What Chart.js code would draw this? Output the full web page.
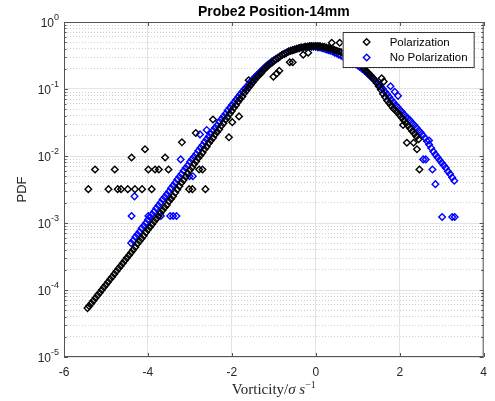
<!DOCTYPE html>
<html>
<head>
<meta charset="utf-8">
<script src="https://cdn.jsdelivr.net/npm/chart.js@4.4.1/dist/chart.umd.min.js"></script>
<style>
  html, body { margin: 0; padding: 0; background: #fff; }
  canvas { display: block; }
</style>
</head>
<body>
<canvas id="chart" width="495" height="401"></canvas>
<script>
// PDF of normalised vorticity, Probe2 Position-14mm

const xTicks = [-6, -4, -2, 0, 2, 4];
const yDecades = [0, -1, -2, -3, -4, -5];   // labels 10^n
const minorSteps = [2, 3, 4, 5, 6, 7, 8, 9];

// Polarization - main curve
const polX = [
  -5.44, -5.4, -5.35, -5.3, -5.25, -5.2, -5.15, -5.1, -5.05, -5,
  -4.95, -4.9, -4.85, -4.8, -4.75, -4.7, -4.65, -4.6, -4.55, -4.5,
  -4.45, -4.4, -4.35, -4.3, -4.25, -4.2, -4.15, -4.1, -4.05, -4,
  -3.95, -3.9, -3.85, -3.8, -3.75, -3.7, -3.65, -3.6, -3.55, -3.5,
  -3.45, -3.4, -3.35, -3.3, -3.25, -3.2, -3.15, -3.1, -3.05, -3,
  -2.95, -2.9, -2.85, -2.8, -2.75, -2.7, -2.65, -2.6, -2.55, -2.5,
  -2.45, -2.4, -2.35, -2.3, -2.25, -2.2, -2.15, -2.1, -2.05, -2,
  -1.95, -1.9, -1.85, -1.8, -1.75, -1.7, -1.65, -1.6, -1.55, -1.5,
  -1.45, -1.4, -1.35, -1.3, -1.25, -1.2, -1.15, -1.1, -1.05, -1,
  -0.95, -0.9, -0.85, -0.8, -0.75, -0.7, -0.65, -0.6, -0.55, -0.5,
  -0.45, -0.4, -0.35, -0.3, -0.25, -0.2, -0.15, -0.1, -0.05, 0,
  0.05, 0.1, 0.15, 0.2, 0.25, 0.3, 0.35, 0.4, 0.45, 0.5,
  0.55, 0.6, 0.65, 0.7, 0.75, 0.8, 0.85, 0.9, 0.95, 1,
  1.05, 1.1, 1.15, 1.2, 1.25, 1.3, 1.35, 1.4, 1.45, 1.5,
  1.55, 1.6, 1.65, 1.7, 1.75, 1.8, 1.85, 1.9, 1.95, 2,
  2.05, 2.1, 2.15, 2.2, 2.25, 2.3, 2.35, 2.4, 2.45
];
const polY = [
  5.37e-5, 5.75e-5, 6.31e-5, 6.92e-5, 7.59e-5, 8.32e-5, 9.12e-5, 1.00e-4, 1.10e-4, 1.20e-4,
  1.32e-4, 1.45e-4, 1.58e-4, 1.74e-4, 1.91e-4, 2.09e-4, 2.29e-4, 2.51e-4, 2.75e-4, 3.02e-4,
  3.31e-4, 3.63e-4, 3.98e-4, 4.37e-4, 4.90e-4, 5.37e-4, 5.89e-4, 6.46e-4, 7.24e-4, 7.94e-4,
  8.71e-4, 9.55e-4, 1.05e-3, 1.15e-3, 1.26e-3, 1.41e-3, 1.55e-3, 1.70e-3, 1.86e-3, 2.09e-3,
  2.29e-3, 2.51e-3, 2.82e-3, 3.16e-3, 3.55e-3, 3.98e-3, 4.37e-3, 4.90e-3, 5.50e-3, 6.17e-3,
  6.76e-3, 7.59e-3, 8.32e-3, 9.33e-3, 1.02e-2, 1.12e-2, 1.26e-2, 1.38e-2, 1.55e-2, 1.70e-2,
  1.86e-2, 2.09e-2, 2.29e-2, 2.51e-2, 2.82e-2, 3.09e-2, 3.47e-2, 3.80e-2, 4.27e-2, 4.68e-2,
  5.25e-2, 5.75e-2, 6.46e-2, 7.08e-2, 7.76e-2, 8.71e-2, 9.55e-2, 0.105, 0.115, 0.126,
  0.138, 0.151, 0.162, 0.174, 0.191, 0.204, 0.219, 0.234, 0.245, 0.263,
  0.275, 0.288, 0.309, 0.324, 0.331, 0.347, 0.363, 0.372, 0.380, 0.389,
  0.398, 0.407, 0.417, 0.417, 0.427, 0.427, 0.437, 0.437, 0.437, 0.437,
  0.437, 0.437, 0.427, 0.427, 0.417, 0.407, 0.398, 0.398, 0.380, 0.372,
  0.363, 0.355, 0.339, 0.324, 0.316, 0.302, 0.288, 0.275, 0.263, 0.251,
  0.234, 0.219, 0.204, 0.186, 0.174, 0.162, 0.148, 0.138, 0.123, 0.110,
  0.0977, 0.0851, 0.0759, 0.0676, 0.0617, 0.0562, 0.0513, 0.0479, 0.0447, 0.0407,
  0.0372, 0.0339, 0.0309, 0.0282, 0.0257, 0.0234, 0.0214, 0.0195, 0.0178
];
// Polarization - scattered points
const polOutX = [
  -5.42, -5.26, -4.94, -4.79, -4.72, -4.64, -4.48, -4.39, -4.31, -4.14,
  -4.07, -3.99, -3.91, -3.83, -3.74, -3.59, -3.51, -3.19, -3.02, -2.94,
  -2.86, -2.78, -2.7, -2.63, -2.45, -2.07, -1.99, -1.83, -1.6, -1.01,
  -0.93, -0.87, -0.62, -0.55, -0.3, -0.18, 0.38, 0.57, 1.57, 1.62,
  2.08, 2.17, 2.33, 2.41, 2.47
];
const polOutY = [
  3.2e-3, 6.3e-3, 3.2e-3, 6.3e-3, 3.2e-3, 3.2e-3, 3.2e-3, 9.5e-3, 3.2e-3, 3.2e-3,
  1.26e-2, 6.3e-3, 3.2e-3, 6.3e-3, 6.3e-3, 9.5e-3, 6.3e-3, 1.6e-2, 3.2e-3, 3.2e-3,
  2.2e-2, 6.3e-3, 6.3e-3, 3.2e-3, 3.5e-2, 1.9e-2, 3.2e-2, 3.9e-2, 0.135, 0.152,
  0.170, 0.187, 0.251, 0.251, 0.324, 0.347, 0.49, 0.49, 0.145, 0.129,
  2.9e-2, 1.58e-2, 1.58e-2, 1.26e-2, 6.3e-3
];

// No Polarization - main curve
const noPolX = [
  -4.4, -4.35, -4.3, -4.25, -4.2, -4.15, -4.1, -4.05, -4, -3.95,
  -3.9, -3.85, -3.8, -3.75, -3.7, -3.65, -3.6, -3.55, -3.5, -3.45,
  -3.4, -3.35, -3.3, -3.25, -3.2, -3.15, -3.1, -3.05, -3, -2.95,
  -2.9, -2.85, -2.8, -2.75, -2.7, -2.65, -2.6, -2.55, -2.5, -2.45,
  -2.4, -2.35, -2.3, -2.25, -2.2, -2.15, -2.1, -2.05, -2, -1.95,
  -1.9, -1.85, -1.8, -1.75, -1.7, -1.65, -1.6, -1.55, -1.5, -1.45,
  -1.4, -1.35, -1.3, -1.25, -1.2, -1.15, -1.1, -1.05, -1, -0.95,
  -0.9, -0.85, -0.8, -0.75, -0.7, -0.65, -0.6, -0.55, -0.5, -0.45,
  -0.4, -0.35, -0.3, -0.25, -0.2, -0.15, -0.1, -0.05, 0, 0.05,
  0.1, 0.15, 0.2, 0.25, 0.3, 0.35, 0.4, 0.45, 0.5, 0.55,
  0.6, 0.65, 0.7, 0.75, 0.8, 0.85, 0.9, 0.95, 1, 1.05,
  1.1, 1.15, 1.2, 1.25, 1.3, 1.35, 1.4, 1.45, 1.5, 1.55,
  1.6, 1.65, 1.7, 1.75, 1.8, 1.85, 1.9, 1.95, 2, 2.05,
  2.1, 2.15, 2.2, 2.25, 2.3, 2.35, 2.4, 2.45, 2.5, 2.55,
  2.6, 2.65, 2.7, 2.75, 2.8, 2.85, 2.9, 2.95, 3, 3.05,
  3.1, 3.15, 3.2, 3.25, 3.3
];
const noPolY = [
  5.01e-4, 5.50e-4, 6.17e-4, 6.76e-4, 7.41e-4, 8.32e-4, 9.12e-4, 1.00e-3, 1.12e-3, 1.23e-3,
  1.35e-3, 1.48e-3, 1.66e-3, 1.82e-3, 2.00e-3, 2.24e-3, 2.45e-3, 2.69e-3, 2.95e-3, 3.31e-3,
  3.63e-3, 3.98e-3, 4.47e-3, 4.90e-3, 5.37e-3, 6.03e-3, 6.61e-3, 7.24e-3, 8.13e-3, 8.91e-3,
  9.77e-3, 1.07e-2, 1.20e-2, 1.32e-2, 1.45e-2, 1.62e-2, 1.78e-2, 1.95e-2, 2.14e-2, 2.40e-2,
  2.63e-2, 2.88e-2, 3.24e-2, 3.55e-2, 3.89e-2, 4.27e-2, 4.79e-2, 5.25e-2, 5.75e-2, 6.31e-2,
  6.92e-2, 7.59e-2, 8.32e-2, 9.12e-2, 0.100, 0.107, 0.117, 0.129, 0.138, 0.151,
  0.162, 0.174, 0.186, 0.200, 0.214, 0.229, 0.240, 0.257, 0.269, 0.282,
  0.295, 0.309, 0.324, 0.339, 0.347, 0.363, 0.372, 0.380, 0.389, 0.398,
  0.407, 0.417, 0.417, 0.427, 0.427, 0.427, 0.427, 0.427, 0.427, 0.417,
  0.417, 0.407, 0.398, 0.389, 0.380, 0.372, 0.363, 0.347, 0.339, 0.324,
  0.316, 0.302, 0.288, 0.282, 0.269, 0.257, 0.245, 0.234, 0.224, 0.214,
  0.200, 0.191, 0.178, 0.166, 0.155, 0.145, 0.135, 0.126, 0.117, 0.107,
  0.100, 0.0912, 0.0832, 0.0759, 0.0692, 0.0631, 0.0575, 0.0537, 0.0490, 0.0457,
  0.0417, 0.0389, 0.0363, 0.0339, 0.0309, 0.0288, 0.0263, 0.0240, 0.0224, 0.0204,
  0.0186, 0.0166, 0.0148, 0.0132, 0.0117, 0.0105, 0.00955, 0.00871, 0.00794, 0.00724,
  0.00661, 0.00589, 0.00537, 0.00479, 0.00427
];
// No Polarization - scattered points
const noPolOutX = [
  -4.39, -4.32, -3.99, -3.69, -3.47, -3.4, -3.32, -3.22, -3.01, -2.93,
  -2.76, -2.6, 1.78, 1.88, 1.96, 2.56, 2.62, 2.7, 2.78, 2.85,
  3.01, 3.25, 3.31
];
const noPolOutY = [
  1.27e-3, 2.5e-3, 1.27e-3, 1.27e-3, 1.27e-3, 1.27e-3, 1.27e-3, 8.9e-3, 5.0e-3, 5.0e-3,
  2.1e-2, 2.45e-2, 0.110, 0.091, 0.079, 8.9e-3, 8.9e-3, 1.7e-2, 6.3e-3, 3.8e-3,
  1.23e-3, 1.23e-3, 1.23e-3
];

const toPoints = (xs, ys) => xs.map((x, i) => ({ x: x, y: ys[i] }));

const AXIS = '#555555';
const TEXT = '#262626';
const SANS = "'Liberation Sans', Arial, Helvetica, sans-serif";
const SERIF = "'Liberation Serif', 'DejaVu Serif', serif";

const series = [
  { label: 'Polarization', color: '#000000' },
  { label: 'No Polarization', color: '#0000ff' }
];

function diamond(ctx, x, y, r) {
  ctx.beginPath();
  ctx.moveTo(x - r, y);
  ctx.lineTo(x, y - r);
  ctx.lineTo(x + r, y);
  ctx.lineTo(x, y + r);
  ctx.closePath();
  ctx.stroke();
}

// frame, ticks, tick labels, titles and legend in MATLAB style
const decorations = {
  id: 'decorations',
  afterDraw(chart) {
    const ctx = chart.ctx;
    const a = chart.chartArea;
    const xs = chart.scales.x, ys = chart.scales.y;
    ctx.save();

    // box
    ctx.strokeStyle = AXIS;
    ctx.lineWidth = 1;
    ctx.strokeRect(a.left + 0.5, a.top + 0.5, a.right - a.left - 1, a.bottom - a.top - 1);

    // inward ticks
    ctx.beginPath();
    xTicks.forEach(v => {
      const px = Math.round(xs.getPixelForValue(v)) + 0.5;
      ctx.moveTo(px, a.bottom); ctx.lineTo(px, a.bottom - 4);
      ctx.moveTo(px, a.top); ctx.lineTo(px, a.top + 4);
    });
    yDecades.forEach(e => {
      const py = Math.round(ys.getPixelForValue(Math.pow(10, e))) + 0.5;
      ctx.moveTo(a.left, py); ctx.lineTo(a.left + 4, py);
      ctx.moveTo(a.right, py); ctx.lineTo(a.right - 4, py);
      if (e > -5) {
        minorSteps.forEach(m => {
          const pm = Math.round(ys.getPixelForValue(m * Math.pow(10, e - 1))) + 0.5;
          ctx.moveTo(a.left, pm); ctx.lineTo(a.left + 2.5, pm);
          ctx.moveTo(a.right, pm); ctx.lineTo(a.right - 2.5, pm);
        });
      }
    });
    ctx.stroke();

    // y tick labels 10^n
    ctx.fillStyle = TEXT;
    ctx.textBaseline = 'middle';
    ctx.textAlign = 'left';
    yDecades.forEach(e => {
      const py = ys.getPixelForValue(Math.pow(10, e));
      const exp = String(e);
      ctx.font = '9px ' + SANS;
      const we = ctx.measureText(exp).width;
      ctx.font = '12px ' + SANS;
      const wb = ctx.measureText('10').width;
      const x0 = a.left - 5 - we - wb;
      ctx.fillText('10', x0, py + 2);
      ctx.font = '9px ' + SANS;
      ctx.fillText(exp, x0 + wb, py - 4);
    });

    // title
    ctx.fillStyle = '#000';
    ctx.textAlign = 'center';
    ctx.font = 'bold 14px ' + SANS;
    ctx.fillText('Probe2 Position-14mm', (a.left + a.right) / 2, 12);

    // y axis title
    ctx.fillStyle = TEXT;
    ctx.save();
    ctx.translate(22, (a.top + a.bottom) / 2);
    ctx.rotate(-Math.PI / 2);
    ctx.font = '13px ' + SANS;
    ctx.fillText('PDF', 0, 0);
    ctx.restore();

    // x axis title: Vorticity/σ s^-1
    const parts = [
      { t: 'Vorticity/', f: '15px ' + SERIF, dy: 0 },
      { t: 'σ', f: 'italic 15px ' + SERIF, dy: 0 },
      { t: ' ', f: '15px ' + SERIF, dy: 0 },
      { t: 's', f: 'italic 15px ' + SERIF, dy: 0 },
      { t: '\u22121', f: '10px ' + SERIF, dy: -6 }
    ];
    let total = 0;
    parts.forEach(p => { ctx.font = p.f; p.w = ctx.measureText(p.t).width; total += p.w; });
    let cx = (a.left + a.right) / 2 - total / 2;
    ctx.textAlign = 'left';
    ctx.textBaseline = 'alphabetic';
    parts.forEach(p => { ctx.font = p.f; ctx.fillText(p.t, cx, 394 + p.dy); cx += p.w; });

    // legend
    const lw = 131, lh = 35;
    const lx = a.right - 10 - lw, ly = a.top + 10;
    ctx.fillStyle = '#fff';
    ctx.fillRect(lx, ly, lw, lh);
    ctx.strokeStyle = '#333';
    ctx.lineWidth = 1;
    ctx.strokeRect(lx + 0.5, ly + 0.5, lw, lh);
    ctx.textBaseline = 'middle';
    ctx.font = '11.5px ' + SANS;
    ctx.lineWidth = 1.4;
    series.forEach((s, i) => {
      const yy = ly + 10 + i * 15.5;
      ctx.strokeStyle = s.color;
      diamond(ctx, lx + 24, yy, 3.3);
      ctx.fillStyle = '#000';
      ctx.fillText(s.label, lx + 47, yy + 0.5);
    });
    ctx.restore();
  }
};

const makeSet = (s, pts) => ({
  label: s.label,
  data: pts,
  pointStyle: 'rectRot',
  pointRadius: 3.3,
  pointBorderWidth: 1.4,
  pointBorderColor: s.color,
  pointBackgroundColor: 'rgba(0,0,0,0)',
  showLine: false
});

new Chart(document.getElementById('chart'), {
  type: 'scatter',
  data: {
    datasets: [
      makeSet(series[0], toPoints(polX, polY).concat(toPoints(polOutX, polOutY))),
      makeSet(series[1], toPoints(noPolX, noPolY).concat(toPoints(noPolOutX, noPolOutY)))
    ]
  },
  options: {
    responsive: false,
    animation: false,
    devicePixelRatio: 1,
    layout: { padding: { left: 0, right: 6, top: 22, bottom: 0 } },
    plugins: { legend: { display: false }, tooltip: { enabled: false }, title: { display: false } },
    scales: {
      x: {
        type: 'linear',
        min: -6, max: 4,
        afterBuildTicks: s => { s.ticks = xTicks.map(v => ({ value: v })); },
        afterFit: s => { s.height = 44; },
        ticks: { color: TEXT, padding: 8, font: { family: SANS, size: 12 }, autoSkip: false, maxRotation: 0 },
        grid: { color: '#e3e3e3', lineWidth: 1, drawTicks: false },
        border: { display: false }
      },
      y: {
        type: 'logarithmic',
        min: 1e-5, max: 1,
        afterBuildTicks: s => {
          const t = [];
          yDecades.slice().reverse().forEach(e => {
            t.push({ value: Math.pow(10, e), major: true });
            if (e < 0) minorSteps.forEach(m => t.push({ value: m * Math.pow(10, e), major: false }));
          });
          s.ticks = t;
        },
        afterFit: s => { s.width = 64; },
        ticks: { display: false, autoSkip: false },
        grid: {
          drawTicks: false,
          lineWidth: 1,
          color: c => (c.tick && c.tick.major) ? '#e3e3e3' : '#d0d0d0'
        },
        border: { display: false, dash: c => (c.tick && !c.tick.major) ? [1, 2] : [] }
      }
    }
  },
  plugins: [decorations]
});
</script>
</body>
</html>
